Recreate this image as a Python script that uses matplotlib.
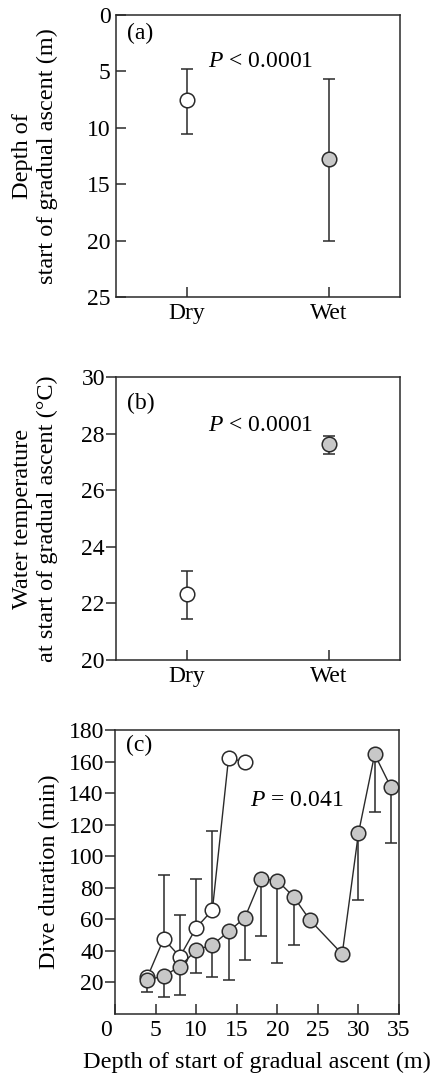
import numpy as np
import matplotlib
matplotlib.use("Agg")
import matplotlib.pyplot as plt
import matplotlib.transforms as mtrans

plt.rcParams['font.family'] = ['Liberation Serif', 'DejaVu Serif']
plt.rcParams['mathtext.fontset'] = 'custom'
plt.rcParams['mathtext.rm'] = 'Liberation Serif'
plt.rcParams['mathtext.it'] = 'Liberation Serif:italic'
plt.rcParams['font.size'] = 17

# ---- data ----
seasons = ["Dry", "Wet"]
depth_mean = [7.5, 12.8]
depth_low = [4.8, 5.7]     # shallow end of bar
depth_high = [10.55, 20.05]

temp_mean = [22.33, 27.64]
temp_low = [21.44, 27.27]
temp_high = [23.13, 27.91]

dry_x = [4, 6, 8, 10, 12, 14, 16]
dry_dur = [23.5, 47.6, 36.3, 54.6, 65.9, 162.5, 159.5]
dry_upper = [np.nan, 88, 62.5, 85.4, 115.8, np.nan, np.nan]

wet_x = [4, 6, 8, 10, 12, 14, 16, 18, 20, 22, 24, 28, 30, 32, 34]
wet_dur = [21.5, 24.2, 30, 40.6, 43.8, 52.3, 61, 85.6, 84.6, 74.4, 59.7, 38, 114.5, 164.6, 143.8]
wet_lower = [14, 11, 12, 26.3, 23.6, 21.7, 34.4, 49.3, 32.5, 43.8, np.nan, np.nan, 72.4, 127.9, 108.1]

GREY = '#c8c8c8'
INK = '#2a2a2a'
MS = 10.5
TFS = 17
LFS = 17.5
W, H = 435, 1076
fig = plt.figure(figsize=(W / 100, H / 100), dpi=100)

def ax_at(l, t, r, b):
    return fig.add_axes([l / W, 1 - b / H, (r - l) / W, (b - t) / H])

def style(ax, ydir):
    for s in ax.spines.values():
        s.set_color(INK)
        s.set_linewidth(1.1)
    ax.tick_params(axis='x', direction='in', length=7, width=1.1, color=INK, pad=4, labelsize=TFS)
    ax.tick_params(axis='y', direction=ydir, length=7, width=1.1, color=INK,
                   pad=(4 if ydir == 'in' else 1), labelsize=TFS)

# ---- panel (a) ----
ax1 = ax_at(116, 15, 400, 297)
xs = np.arange(len(seasons))
for i in range(len(seasons)):
    fc = 'white' if i == 0 else GREY
    ax1.errorbar([xs[i]], [depth_mean[i]],
                 yerr=[[depth_mean[i] - depth_low[i]], [depth_high[i] - depth_mean[i]]],
                 fmt='o', ms=MS, mfc=fc, mec=INK, mew=1.1, ecolor=INK, elinewidth=1.1,
                 capsize=4, capthick=1.1, color=INK)
ax1.set_xlim(-0.5, 1.5)
ax1.set_ylim(25, 0)
ax1.set_yticks([0, 5, 10, 15, 20, 25])
ax1.set_xticks(xs)
ax1.set_xticklabels(seasons)
style(ax1, 'in')
ax1.set_ylabel("Depth of\nstart of gradual ascent (m)", fontsize=LFS, linespacing=1.2, va='center')
ax1.yaxis.set_label_coords(-0.285, 0.5)
ax1.text(0.04, 0.935, "(a)", transform=ax1.transAxes, ha='left', va='center', fontsize=TFS)
ax1.text(0.324, 0.835, "$P$ < 0.0001", transform=ax1.transAxes, ha='left', va='center', fontsize=TFS)

# ---- panel (b) ----
ax2 = ax_at(116, 377, 400, 660)
for i in range(len(seasons)):
    fc = 'white' if i == 0 else GREY
    ax2.errorbar([xs[i]], [temp_mean[i]],
                 yerr=[[temp_mean[i] - temp_low[i]], [temp_high[i] - temp_mean[i]]],
                 fmt='o', ms=MS, mfc=fc, mec=INK, mew=1.1, ecolor=INK, elinewidth=1.1,
                 capsize=4, capthick=1.1, color=INK)
ax2.set_xlim(-0.5, 1.5)
ax2.set_ylim(20, 30)
ax2.set_yticks([20, 22, 24, 26, 28, 30])
ax2.set_xticks(xs)
ax2.set_xticklabels(seasons)
style(ax2, 'out')
ax2.set_ylabel("Water temperature\nat start of gradual ascent (°C)", fontsize=LFS, linespacing=1.2, va='center')
ax2.yaxis.set_label_coords(-0.285, 0.5)
ax2.text(0.04, 0.905, "(b)", transform=ax2.transAxes, ha='left', va='center', fontsize=TFS)
ax2.text(0.324, 0.83, "$P$ < 0.0001", transform=ax2.transAxes, ha='left', va='center', fontsize=TFS)

# ---- panel (c) ----
ax3 = ax_at(115, 730, 399, 1014)
dx = np.array(dry_x, float); dy = np.array(dry_dur); du = np.array(dry_upper)
wx = np.array(wet_x, float); wy = np.array(wet_dur); wl = np.array(wet_lower)
m = ~np.isnan(du)
ax3.errorbar(dx[m], dy[m], yerr=[np.zeros(m.sum()), du[m] - dy[m]], fmt='none',
             ecolor=INK, elinewidth=1.1, capsize=4, capthick=1.1, zorder=1)
ax3.plot(dx, dy, '-o', color=INK, lw=1.0, ms=MS, mfc='white', mec=INK, mew=1.1, zorder=2)
m2 = ~np.isnan(wl)
ax3.errorbar(wx[m2], wy[m2], yerr=[wy[m2] - wl[m2], np.zeros(m2.sum())], fmt='none',
             ecolor=INK, elinewidth=1.1, capsize=4, capthick=1.1, zorder=3)
ax3.plot(wx, wy, '-o', color=INK, lw=1.0, ms=MS, mfc=GREY, mec=INK, mew=1.1, zorder=4)
ax3.set_xlim(0, 35)
ax3.set_ylim(0, 180)
ax3.set_xticks(np.arange(0, 36, 5))
ax3.set_yticks(np.arange(20, 181, 20))
style(ax3, 'out')
ax3.set_ylabel("Dive duration (min)", fontsize=LFS, va='center')
ax3.yaxis.set_label_coords(-0.23, 0.5)
ax3.set_xlabel("Depth of start of gradual ascent (m)", fontsize=LFS, va='center')
ax3.xaxis.set_label_coords(0.5, -0.172)
ax3.text(0.04, 0.945, "(c)", transform=ax3.transAxes, ha='left', va='center', fontsize=TFS)
ax3.text(0.475, 0.75, "$P$ = 0.041", transform=ax3.transAxes, ha='left', va='center', fontsize=TFS)

fig.canvas.draw()
lbl0 = ax3.get_xticklabels()[0]
lbl0.set_transform(lbl0.get_transform() + mtrans.ScaledTranslation(-9 / 100, 0, fig.dpi_scale_trans))

fig.savefig("out.png", dpi=100, facecolor='white')
